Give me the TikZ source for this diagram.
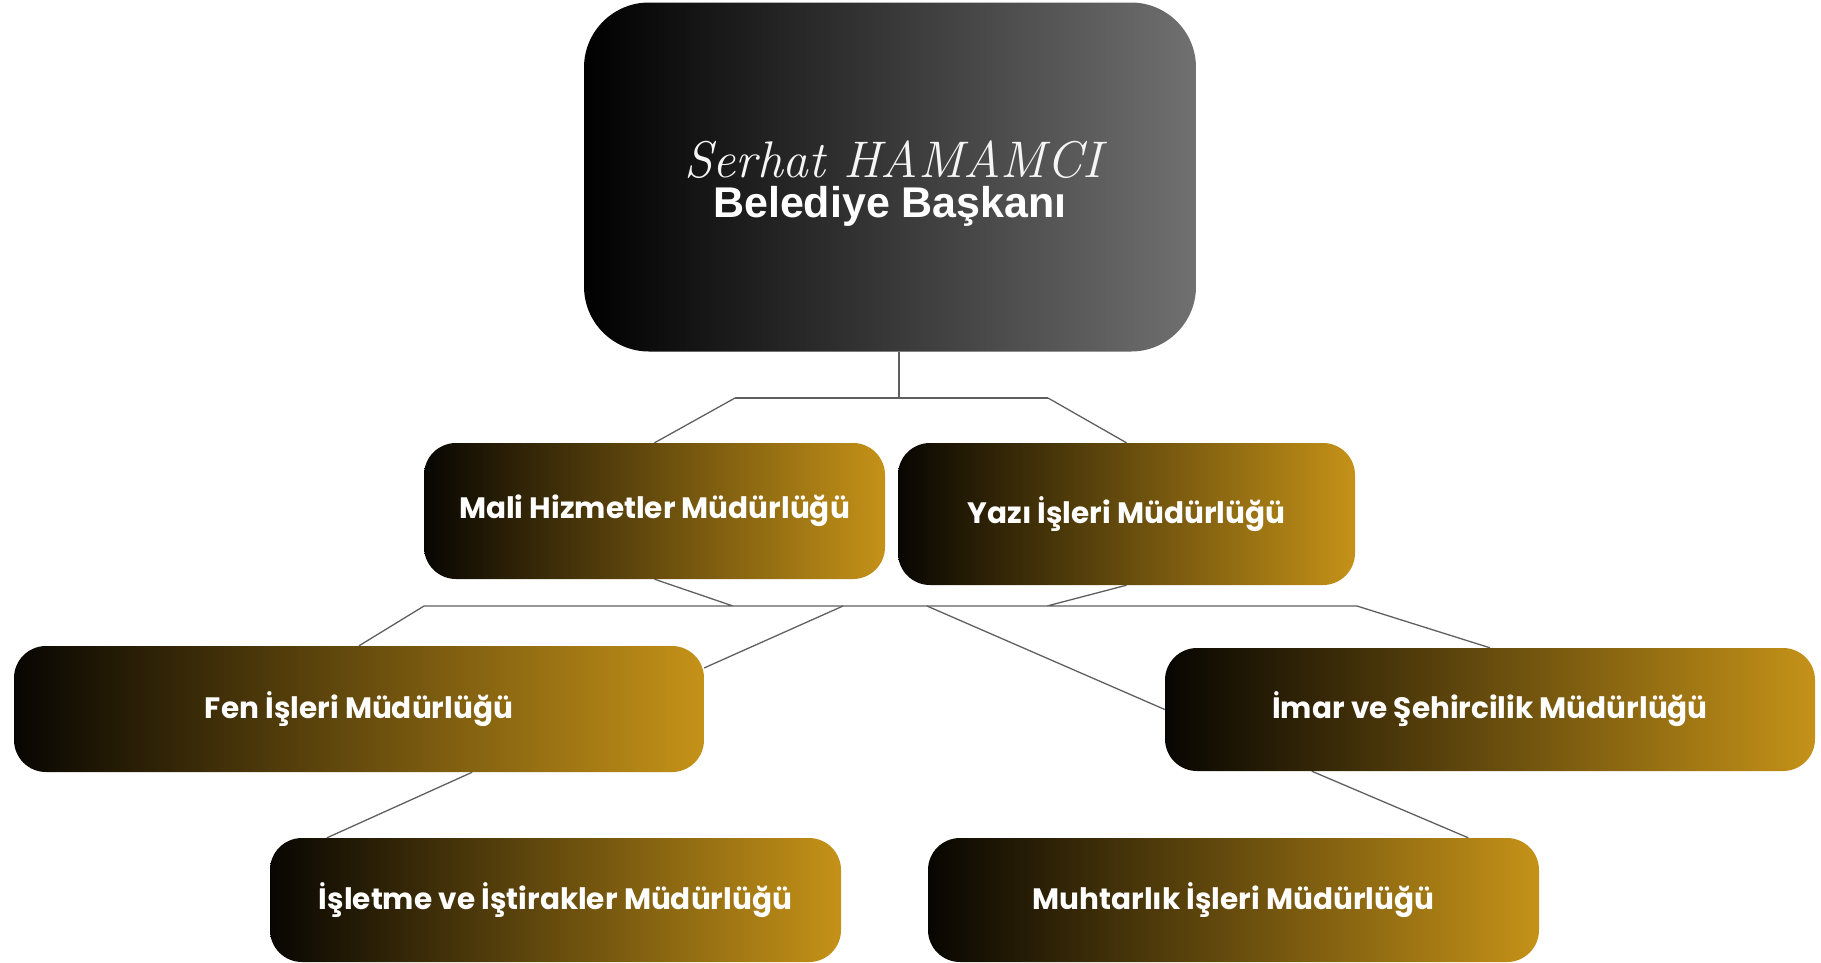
\documentclass[tikz,border=0pt]{standalone}
\usepackage{fontspec}
\usepackage{tikz}
\usetikzlibrary{calc,backgrounds}
\newfontfamily\boxfont{Poppins}
\newfontfamily\titlefont{Liberation Sans}
\definecolor{boxgold}{RGB}{197,146,24}
\definecolor{boxdark}{RGB}{8,6,2}
\definecolor{topgray}{RGB}{112,112,112}
\definecolor{linegray}{RGB}{95,95,95}

\begin{document}
\begin{tikzpicture}[x=1pt,y=-1pt,
  dept/.style={rectangle,rounded corners=32pt,left color=boxdark,right color=boxgold,
    text=white,inner sep=0pt,font=\boxfont\bfseries\fontsize{29.5}{34}\selectfont},
  link/.style={draw=linegray,line width=1.3pt}]
  \useasboundingbox (0,0) rectangle (1821,962);
  \node[rectangle,rounded corners=65pt,left color=black,right color=topgray,
    minimum width=612pt,minimum height=349pt] (baskan) at (890,177) {};
  \node[text=white!92!gray,font=\itshape\fontsize{51.5}{60}\selectfont,anchor=base,inner sep=1pt]
    (isim) at (893,177) {Serhat HAMAMCI};
  \node[text=white,font=\titlefont\bfseries\fontsize{43}{50}\selectfont,anchor=base,inner sep=1pt]
    (unvan) at (890,217) {Belediye Başkanı};
  \node[dept,minimum width=461pt,minimum height=136pt] (mali) at (654.5,511) {Mali Hizmetler Müdürlüğü};
  \node[dept,minimum width=457pt,minimum height=142pt] (yazi) at (1126.5,514) {Yazı İşleri Müdürlüğü};
  \node[dept,minimum width=690pt,minimum height=126pt] (fen) at (359,709) {Fen İşleri Müdürlüğü};
  \node[dept,minimum width=650pt,minimum height=123pt] (imar) at (1490,709.5) {İmar ve Şehircilik Müdürlüğü};
  \node[dept,minimum width=571pt,minimum height=124pt] (isletme) at (555.5,900) {İşletme ve İştirakler Müdürlüğü};
  \node[dept,minimum width=611pt,minimum height=124pt] (muhtar) at (1233.5,900) {Muhtarlık İşleri Müdürlüğü};
  \coordinate (t1) at (899,398);
  \coordinate (t2) at (735,398);
  \coordinate (t3) at (1048,398);
  \coordinate (a1) at (424,606);
  \coordinate (a2) at (733,606);
  \coordinate (a3) at (843,606);
  \coordinate (a4) at (927,606);
  \coordinate (a5) at (1047,606);
  \coordinate (a6) at (1357,606);
  \begin{scope}[on background layer]
  \draw[link]
  (baskan.south -| t1) -- (t1)
  (t2) -- (t3);
  \draw[link]
  (t2) -- (mali.north)
  (t3) -- (yazi.north);
  \draw[link]
  (a1) -- (a6)
  (mali.south) -- (a2)
  (yazi.south) -- (a5);
  \draw[link]
  (a1) -- (fen.north)
  (a3) -- ($(fen.north east)!0.175!(fen.south east)$)
  (a4) -- (imar.west)
  (a6) -- (imar.north);
  \draw[link]
  ($(fen.south west)!0.664!(fen.south east)$) -- ($(isletme.north west)!0.1!(isletme.north east)$)
  ($(imar.south west)!0.226!(imar.south east)$) -- ($(muhtar.north west)!0.884!(muhtar.north east)$);
  \end{scope}
\end{tikzpicture}
\end{document}
